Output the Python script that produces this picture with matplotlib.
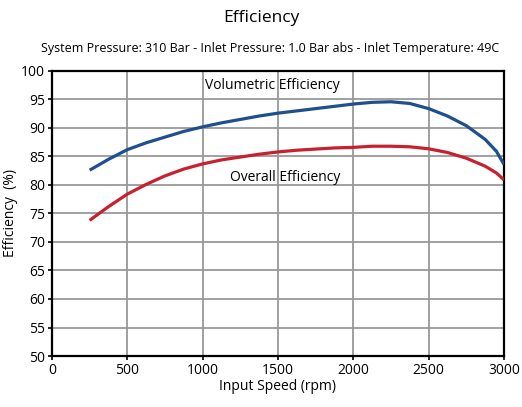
import matplotlib
matplotlib.use("Agg")
import matplotlib.pyplot as plt

plt.rcParams['font.family'] = ['Open Sans', 'DejaVu Sans']

speed = [250, 375, 500, 625, 750, 875, 1000, 1125, 1250, 1375, 1500, 1625,
         1750, 1875, 2000, 2125, 2250, 2375, 2500, 2625, 2750, 2875, 2950, 3000]
volumetric = [82.6, 84.5, 86.2, 87.4, 88.4, 89.4, 90.2, 90.9, 91.5, 92.1, 92.6, 93.0,
              93.4, 93.8, 94.2, 94.5, 94.6, 94.3, 93.4, 92.1, 90.4, 88.0, 85.9, 83.6]
overall = [73.8, 76.2, 78.4, 80.1, 81.6, 82.8, 83.7, 84.4, 84.9, 85.4, 85.8, 86.1,
           86.3, 86.5, 86.6, 86.8, 86.8, 86.7, 86.35, 85.7, 84.7, 83.3, 82.1, 80.9]

fig = plt.figure(figsize=(5.22, 4.07), dpi=100)
ax = fig.add_axes([0.0996, 0.1253, 0.8659, 0.7003])

ax.plot(speed, volumetric, color='#1f4f8c', lw=2.3, solid_capstyle='butt',
        solid_joinstyle='round', zorder=3)
ax.plot(speed, overall, color='#c8202e', lw=2.3, solid_capstyle='butt',
        solid_joinstyle='round', zorder=3)

ax.set_xlim(0, 3000)
ax.set_ylim(50, 100)
ax.set_xticks(range(0, 3001, 500))
ax.set_yticks(range(50, 101, 5))
ax.grid(True, color='#999999', lw=1.3)
ax.set_axisbelow(True)
for s in ax.spines.values():
    s.set_color('black')
    s.set_linewidth(1.6)
ax.tick_params(axis='both', length=3, width=1.2, labelsize=10, pad=2)

ax.text(1460, 97.4, 'Volumetric Efficiency', ha='center', va='center', fontsize=10)
ax.text(1550, 81.3, 'Overall Efficiency', ha='center', va='center', fontsize=10)

ax.set_xlabel('Input Speed (rpm)', fontsize=10, labelpad=1)
ax.set_ylabel('Efficiency  (%)', fontsize=10)
ax.yaxis.set_label_coords(-0.076, 0.5)

fig.text(0.5, 0.955, 'Efficiency', ha='center', va='center', fontsize=12.5)
fig.text(0.517, 0.882, 'System Pressure: 310 Bar - Inlet Pressure: 1.0 Bar abs - Inlet Temperature: 49C',
         ha='center', va='center', fontsize=9)

fig.savefig('out.png', dpi=100)
